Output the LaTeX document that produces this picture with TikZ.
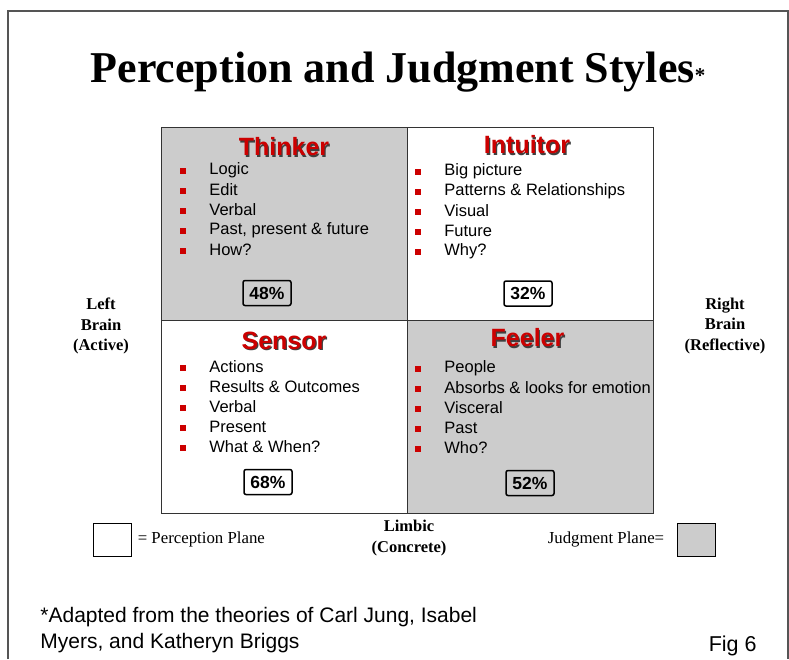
\documentclass[tikz,border=0pt]{standalone}
\usepackage{fontspec}
\setmainfont{Liberation Serif}
\newfontfamily\arial{Liberation Sans}
\usepackage{tikz}
\usetikzlibrary{positioning}
\definecolor{jgrey}{HTML}{CCCCCC}
\definecolor{hred}{HTML}{CC0000}
\definecolor{frm}{HTML}{555555}

\begin{document}
\begin{tikzpicture}[x=1pt, y=-1pt, line width=0.8pt,
      every node/.style={inner sep=0pt},
      quad/.style={draw=black!80, minimum width=246pt, minimum height=193pt,
        anchor=north west},
      head/.style={font=\arial\bfseries\fontsize{25}{25}\selectfont, text=hred},
      shade/.style={font=\arial\bfseries\fontsize{25}{25}\selectfont, text=black!75},
      bul/.style={fill=hred, minimum size=5.5pt},
      item/.style={anchor=west, font=\arial\fontsize{16.5}{20}\selectfont},
      pct/.style={draw, line width=1.5pt, rounded corners=2pt,
        minimum width=48pt, minimum height=25pt,
        font=\arial\bfseries\fontsize{17.5}{17.5}\selectfont},
      side/.style={align=center, font=\bfseries\fontsize{16.5}{20.5}\selectfont},
      legend/.style={font=\fontsize{16.8}{16.8}\selectfont}]
    \useasboundingbox (0,0) rectangle (789,659);
    % frame
    \draw[frm, line width=1.5pt] (8,659) -- (8,11) -- (788,11) -- (788,659);
    \node[anchor=base, font=\bfseries\fontsize{44}{44}\selectfont] (title)
      at (398,82) {Perception and Judgment Styles{\fontsize{21}{21}\selectfont*}};

    % quadrants
    \node[quad, fill=jgrey] (thk) at (161,127) {};
    \node[quad] (int) at (407,127) {};
    \node[quad] (sen) at (161,320) {};
    \node[quad, fill=jgrey] (fee) at (407,320) {};

    \foreach \n/\t/\x/\y in {thk/Thinker/284/147, int/Intuitor/527/145,
        sen/Sensor/284/341, fee/Feeler/527.5/338}{
      \node[shade] (\n-s) at (\x+1.2,\y+1.2) {\t};
      \node[head] (\n-h) at (\x,\y) {\t};
    }

    % bullet lists
    \foreach \t [count=\k] in {Logic, Edit, Verbal, {Past, present \& future}, How?}{
      \node[bul] (thk-b\k) at (183,151+20*\k) {};
      \node[item] (thk-t\k) at (209,150+20*\k) {\t};
    }
    \foreach \t [count=\k] in {Big picture, Patterns \& Relationships, Visual,
        Future, Why?}{
      \node[bul] (int-b\k) at (418,152+20*\k) {};
      \node[item] (int-t\k) at (444,151+20*\k) {\t};
    }
    \foreach \t [count=\k] in {Actions, Results \& Outcomes, Verbal, Present,
        What \& When?}{
      \node[bul] (sen-b\k) at (183,348+20*\k) {};
      \node[item] (sen-t\k) at (209,347+20*\k) {\t};
    }
    \foreach \t [count=\k] in {People, Absorbs \& looks for emotion, Visceral,
        Past, Who?}{
      \node[bul] (fee-b\k) at (418,349+20*\k) {};
      \node[item] (fee-t\k) at (444,348+20*\k) {\t};
    }

    % percentages
    \node[pct] (thk-p) at (267,293) {48\%};
    \node[pct] (int-p) at (528,293.5) {32\%};
    \node[pct] (sen-p) at (268,482) {68\%};
    \node[pct] (fee-p) at (530,483) {52\%};

    % brain sides
    \node[side] (left) at (101,326) {Left\\Brain\\(Active)};
    \node[side] (right) at (725,326) {Right\\Brain\\(Reflective)};
    \node[side] (limbic) at (409,538) {Limbic\\(Concrete)};

    % legend
    \node[draw, minimum width=38pt, minimum height=33pt] (pbox) at (112,539.5) {};
    \node[right=6pt of pbox, legend] (plab) {= Perception Plane};
    \node[draw, fill=jgrey, minimum width=38pt, minimum height=33pt] (jbox)
      at (696,539.5) {};
    \node[left=12pt of jbox, legend] (jlab) {Judgment Plane=};

    % footer
    \node[anchor=north west, align=left, font=\arial\fontsize{21}{26}\selectfont]
      (note) at (40,607) {*Adapted from the theories of Carl Jung, Isabel\\
      Myers, and Katheryn Briggs};
    \node[anchor=east, font=\arial\fontsize{21.5}{21.5}\selectfont] (fig)
      at (757,646) {Fig 6};
  \end{tikzpicture}
\end{document}
